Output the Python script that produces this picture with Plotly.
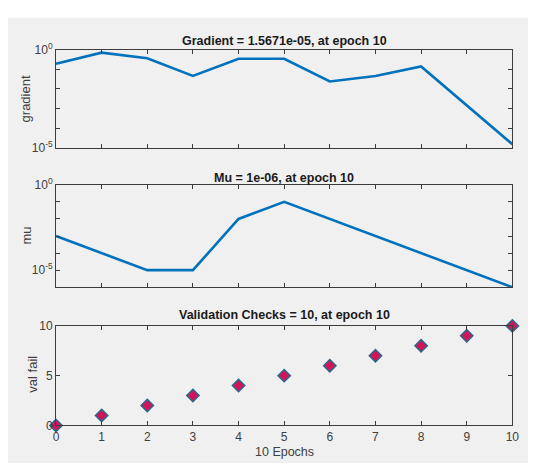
import plotly.graph_objects as go

epochs = [0, 1, 2, 3, 4, 5, 6, 7, 8, 9, 10]
gradient = [0.19, 0.7, 0.36, 0.046, 0.34, 0.34, 0.024, 0.046, 0.14, 0.0014, 1.5671e-05]
mu = [1e-3, 1e-4, 1e-5, 1e-5, 1e-2, 1e-1, 1e-2, 1e-3, 1e-4, 1e-5, 1e-6]
val_fail = [0, 1, 2, 3, 4, 5, 6, 7, 8, 9, 10]

titles = ["Gradient = 1.5671e-05, at epoch 10", "Mu = 1e-06, at epoch 10",
          "Validation Checks = 10, at epoch 10"]
ylabels = ["gradient", "mu", "val fail"]
xlabel = "10 Epochs"

W, H = 539, 472
def fx(px): return px / W
def fy(py): return 1 - py / H

line_color = "#0072BD"
axis_col = "#3c3c3c"
FONT = "Liberation Sans, Arial"
tick_font = dict(family=FONT, size=12, color="#404040")

fig = go.Figure()
fig.add_trace(go.Scatter(x=epochs, y=gradient, mode="lines", line=dict(color=line_color, width=2.6),
                         xaxis="x", yaxis="y", showlegend=False))
fig.add_trace(go.Scatter(x=epochs, y=mu, mode="lines", line=dict(color=line_color, width=2.6),
                         xaxis="x2", yaxis="y2", showlegend=False))
fig.add_trace(go.Scatter(x=epochs, y=val_fail, mode="markers",
                         marker=dict(symbol="diamond", size=9.5, color="#d4145a",
                                     line=dict(color="#2a6a86", width=1.5)),
                         cliponaxis=False, xaxis="x3", yaxis="y3", showlegend=False))

xdom = [fx(54), fx(519)]
ydoms = [[fy(144), fy(42)], [fy(288), fy(182)], [fy(431), fy(328)]]

def xax(anchor, labels):
    return dict(domain=xdom, anchor=anchor, range=[0, 10], tickvals=epochs,
                ticks="inside", ticklen=4, tickcolor=axis_col, mirror="ticks",
                showline=True, linecolor=axis_col, linewidth=1, showgrid=False,
                zeroline=False, showticklabels=labels, tickfont=tick_font)

def sup(e):
    return "10<sup>%d</sup>" % e

g_major = [-5, 0]
g_minor = [-4, -3, -2, -1]
m_major = [-5, 0]
m_minor = [-4, -3, -2, -1]

def ylog(anchor, dom, rng, major, minor):
    return dict(domain=dom, anchor=anchor, type="log", range=rng,
                tickvals=[10.0 ** e for e in major], ticktext=[sup(e) for e in major],
                minor=dict(tickmode="array", tickvals=[10.0 ** e for e in minor],
                           ticks="inside", ticklen=4, tickcolor=axis_col, showgrid=False),
                ticks="inside", ticklen=4, tickcolor=axis_col, mirror="ticks",
                showline=True, linecolor=axis_col, linewidth=1, showgrid=False,
                zeroline=False, tickfont=tick_font)

fig.update_layout(
    width=W, height=H, margin=dict(l=0, r=0, t=0, b=0),
    paper_bgcolor="white", plot_bgcolor="white",
    xaxis=xax("y", False), xaxis2=xax("y2", False), xaxis3=xax("y3", True),
    yaxis=ylog("x", ydoms[0], [-5, 0], g_major, g_minor),
    yaxis2=ylog("x2", ydoms[1], [-6, 0], m_major, m_minor),
    yaxis3=dict(domain=ydoms[2], anchor="x3", range=[0, 10], tickvals=[0, 5, 10],
                ticks="inside", ticklen=4, tickcolor=axis_col, mirror="ticks",
                showline=True, linecolor=axis_col, linewidth=1, showgrid=False,
                zeroline=False, tickfont=tick_font),
    shapes=[dict(type="rect", xref="paper", yref="paper", x0=fx(5), x1=fx(535), y0=fy(470), y1=fy(9),
                 fillcolor="#f0f0f0", line=dict(width=0), layer="below")],
)

tpos = [33, 175, 317]
for t, y in zip(titles, tpos):
    fig.add_annotation(text="<b>%s</b>" % t, x=fx(286.5), y=fy(y), xref="paper", yref="paper",
                       showarrow=False, font=dict(family=FONT, size=12.5, color="#1a1a1a"),
                       xanchor="center", yanchor="middle")

lpos = [(23, 93), (23, 235), (30, 378)]
for t, (x, y) in zip(ylabels, lpos):
    fig.add_annotation(text=t, x=fx(x), y=fy(y), xref="paper", yref="paper", textangle=-90,
                       showarrow=False, font=dict(family=FONT, size=13, color="#404040"),
                       xanchor="center", yanchor="middle")

fig.add_annotation(text=xlabel, x=fx(286.5), y=fy(459), xref="paper", yref="paper", showarrow=False,
                   font=dict(family=FONT, size=12.5, color="#404040"),
                   xanchor="center", yanchor="middle")

fig.write_html("out.html")
